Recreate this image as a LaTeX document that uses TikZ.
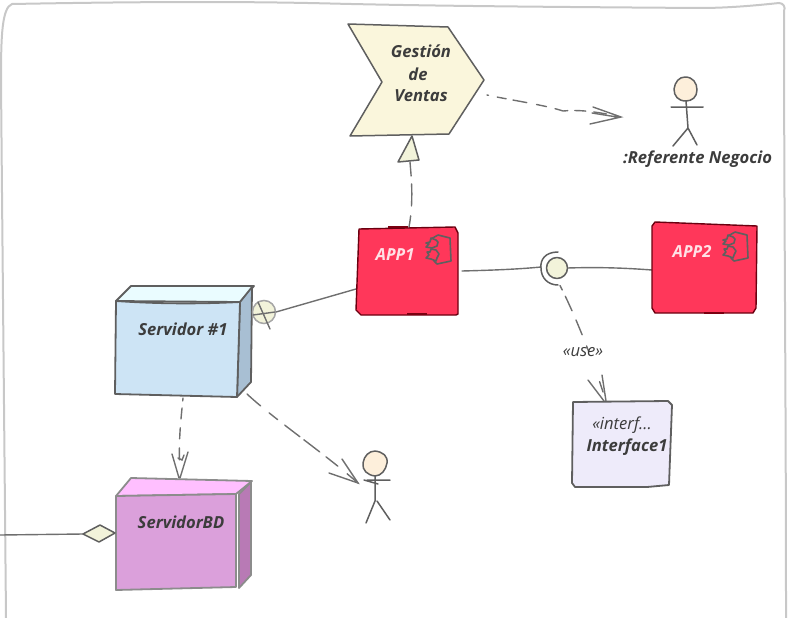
\documentclass[tikz,border=0pt]{standalone}
\usepackage{fontspec}
\setmainfont{Open Sans}
\usetikzlibrary{calc}
\definecolor{ink}{HTML}{3C3C3C}
\definecolor{stroke}{HTML}{5F5F5F}
\definecolor{framec}{HTML}{C8C8C8}
\definecolor{appfill}{HTML}{FF375A}
\definecolor{appedge}{HTML}{6B0010}
\definecolor{appbar}{HTML}{7A0010}
\definecolor{cream}{HTML}{FAF6DC}
\definecolor{ballc}{HTML}{F2F3DA}
\definecolor{skin}{HTML}{FDEFDB}
\definecolor{srvfront}{HTML}{CDE4F5}
\definecolor{srvtop}{HTML}{EAFCFF}
\definecolor{srvside}{HTML}{A8BFD3}
\definecolor{bdfront}{HTML}{DBA0DB}
\definecolor{bdtop}{HTML}{FFBFFF}
\definecolor{bdside}{HTML}{B87AB5}
\definecolor{ifcfill}{HTML}{EEEBFA}
\tikzset{
  anchorbox/.style={inner sep=0pt,outer sep=0pt},
  lbl/.style={inner sep=0pt,font=\fontsize{16.6}{20}\selectfont\bfseries\itshape,text=ink,align=center},
  applbl/.style={lbl,text=white!85!appfill},
  thin lbl/.style={inner sep=0pt,font=\fontsize{16.6}{20}\selectfont\itshape,text=ink},
  edge/.style={draw=stroke,line width=1.5pt,line join=round,line cap=round},
  conn/.style={draw=stroke!90!white,line width=1.4pt,line cap=round},
  dashc/.style={conn,dash pattern=on 15pt off 10pt},
  appshape/.style={fill=appfill,draw=appedge,line width=1.4pt,line join=round},
  appbarline/.style={draw=appbar,line width=2.5pt},
  nodeedge/.style={draw=stroke,line width=1.8pt,line join=round},
  bdedge/.style={draw=gray!90!white,line width=1.8pt,line join=round},
  compicon/.pic={
    \draw[edge,line width=1.6pt] (-7,-10) -- (0,-14) -- (12,-11) -- (13,12) -- (-1,15) -- (-4,12);
    \draw[edge,line width=1.6pt] (-12,-6) -- (-8,-7) -- (-7,-11) -- (-2,-9) -- (0,-7) -- (-1,-3) -- (-6,-1) -- (-12,-2) -- (-9,-5) -- cycle;
    \draw[edge,line width=1.6pt] (-11,3) -- (-8,3) -- (-7,0) -- (-2,1) -- (1,5) -- (-1,9) -- (-2,12) -- (-7,10) -- (-12,9) -- (-9,6) -- cycle;
  },
}
\begin{document}
\begin{tikzpicture}[x=1pt,y=-1pt]
\useasboundingbox (0,0) rectangle (795,618);
% frame
\draw[framec,line width=2pt,line cap=round]
  (6,618) .. controls (4,400) and (2,200) .. (1,80) .. controls (1,35) and (2,8) .. (12,4)
  .. controls (120,2) and (230,1) .. (330,3.5) .. controls (430,6) and (560,7) .. (700,8)
  .. controls (730,8) and (760,5) .. (779,3) .. controls (783,3) and (786,7) .. (784,11)
  .. controls (784,200) and (786,400) .. (786,618);

% anchor boxes
\node[anchorbox,minimum width=136pt,minimum height=112pt] (gestion) at (416,80) {};
\node[anchorbox,minimum width=102pt,minimum height=88pt] (app1) at (407,271) {};
\node[anchorbox,minimum width=104pt,minimum height=90pt] (app2) at (704,268) {};
\node[anchorbox,minimum width=137pt,minimum height=96pt] (srv) at (184,349) {};
\node[anchorbox,minimum width=120pt,minimum height=94pt] (bd) at (176,534) {};
\node[anchorbox,minimum width=100pt,minimum height=86pt] (ifc) at (622,444) {};
\node[anchorbox,minimum width=32pt,minimum height=70pt] (refactor) at (687,111) {};
\node[anchorbox,minimum width=26pt,minimum height=70pt] (actor) at (377,488) {};
\node[anchorbox,minimum size=21pt,circle] (ball) at (557,268) {};
\node[anchorbox,minimum size=24pt,circle] (crossball) at (264,312) {};
\node[anchorbox,minimum width=32pt,minimum height=17pt] (dia) at (99,534) {};
\coordinate (west) at (0,535);
\coordinate (gtip) at (412,136);
\coordinate (gbase) at (410,162);
\coordinate (refend) at (621,117);
\coordinate (actend) at (358,483);
\coordinate (ifcend) at (606,401);
\coordinate (bdend) at (180,478);

% connectors
\draw[conn] ([xshift=4pt]app1.east) .. controls (500,270) and (520,269) .. (541,267);
\draw[conn] (ball.east) .. controls (600,267) and (625,268) .. (app2.west |- 0,270);
\draw[conn] (crossball.east) -- (app1.west |- 0,289);
\draw[conn] (west) -- (dia.west);
\draw[dashc,dash pattern=on 1.5pt off 9pt on 9pt off 7pt on 14pt off 10pt on 10pt off 9pt on 13pt off 7pt on 11pt off 8pt on 13pt off 40pt] ([yshift=-15pt,xshift=3pt]gestion.east) .. controls (510,100) and (545,105) .. (563,111) .. controls (575,110) and (590,110) .. (refend);
\draw[dashc,dash pattern=on 14pt off 8pt on 22pt off 10pt on 14pt] (gbase) .. controls (411,175) and (414,200) .. (app1.north -| 409,0);
\draw[dashc,dash pattern=on 5pt off 7pt on 16pt off 10pt on 16pt off 12pt on 6pt off 32pt on 11pt off 80pt] (ball.south) ++(3,7) .. controls (570,305) and (588,345) .. (ifcend);
\draw[dashc,dash pattern=on 3pt off 7pt on 11pt off 9pt on 11pt off 9pt on 12pt off 30pt] (srv.south) ++(-1,1) .. controls (181,420) and (178,440) .. (bdend);
\draw[dashc,dash pattern=on 18pt off 11pt on 11pt off 9pt on 19pt off 5pt on 20pt off 8pt on 15pt off 12pt on 15pt] (247,394) .. controls (275,420) and (320,450) .. (actend);
% open arrowheads
\draw[conn] (593,107) -- (refend) -- (590,124) (592,113) -- (617,117);
\draw[conn] (342,459) -- (actend) -- (329,473);
\draw[conn] (588,380) -- (604,401) (602,375) -- (ifcend);
\draw[conn] (172,454) -- (179,478) (188,452) -- (bdend) (178,458) -- (182,460) -- (184,455);
% realization triangle
\draw[edge,fill=ballc] (gtip) -- (398,162) -- (419,160) -- cycle;

% use label
\node[thin lbl] (use) at (583,352) {«use»};

% Gestion
\draw[edge,fill=cream] (348,24) -- (448,27) -- (484,80) -- (449,134) -- (350,136) -- (382,82) -- cycle;
\node[lbl] (g1) at (421,51) {Gestión};
\node[lbl] (g2) at (418,74) {de};
\node[lbl] (g3) at (421,96) {Ventas};

% actor 1
\draw[edge,fill=skin] (685,77) .. controls (693,77) and (697,83) .. (697,90) .. controls (697,97) and (692,101) .. (686,101) .. controls (678,101) and (674,96) .. (674,89) .. controls (675,82) and (679,77) .. (685,77) -- cycle;
\draw[edge] (686,101) -- (688,128) -- (673,146) (688,128) -- (697,145) (671,107) -- (703,107);
\node[lbl] (reflbl) at (697.5,159) {:Referente Negocio};

% actor 2
\draw[edge,fill=skin] (375,451) .. controls (383,452) and (388,456) .. (387,463) .. controls (386,470) and (381,476) .. (375,476) .. controls (367,475) and (362,470) .. (363,463) .. controls (364,456) and (369,451) .. (375,451) -- cycle;
\draw[edge] (375,476) -- (375,501) -- (366,523) (377,501) -- (390,520) (364,480) -- (378,484) (367,480) -- (390,480);

% APP1
\draw[appshape] (359,229) -- (455,227) -- (458,233) -- (458,314) -- (456,315) -- (361,315) -- (356,310) -- cycle;
\draw[appbarline] (388,227) -- (408,227) (407,314) -- (427,314);
\node[applbl] (app1lbl) at (395,255) {APP1};
\pic at (438,249) {compicon};

% APP2
\draw[appshape] (655,222) -- (757,226) -- (756,308) -- (753,313) -- (655,313) -- (652,308) -- (652,226) -- cycle;
\draw[appbarline] (704,313) -- (724,313);
\node[applbl] (app2lbl) at (692,251) {APP2};
\pic at (735,246) {compicon};

% ball & socket
\draw[edge,fill=ballc] (ball) circle (10.5pt);
\draw[edge] (558,252) .. controls (545,252) and (540,260) .. (541,268) .. controls (541,278) and (548,285) .. (558,285);

% Server
\draw[nodeedge,fill=srvtop] (116,301) -- (131,286) -- (254,286) -- (240,302) -- cycle;
\draw[nodeedge,fill=srvside] (240,302) -- (252,287) -- (251,382) -- (237,397) -- cycle;
\draw[nodeedge,fill=srvfront] (116,301) .. controls (160,304) and (200,304) .. (240,302) -- (237,397) -- (115,394) -- cycle;
\node[lbl] (srvlbl) at (183,329) {Servidor \#1};

% crossed ball
\draw[draw=gray!70!white,line width=1.5pt,fill=ballc] (crossball) circle (11.5pt);
\draw[conn] (258,302) -- (270,329) (253,315) -- (275,312);

% ServidorBD
\draw[bdedge,fill=bdtop] (116,496) -- (131,478) -- (252,481) -- (236,494) -- cycle;
\draw[bdedge,fill=bdside] (239,494) -- (251,482) -- (251,575) -- (239,588) -- cycle;
\draw[bdedge,fill=bdfront] (116,496) -- (236,494) -- (236,587) -- (116,590) -- cycle;
\node[lbl] (bdlbl) at (181,522) {ServidorBD};

% diamond
\draw[edge,fill=ballc] (dia.west) -- (100,525) -- (115,533) -- (99,542) -- cycle;

% Interface
\draw[nodeedge,fill=ifcfill] (573,402) -- (668,401) -- (672,405) -- (669,485) -- (647,487) -- (575,487) -- (572,483) -- cycle;
\node[thin lbl] (if1) at (622,425) {«interf...};
\node[lbl] (if2) at (627,447) {Interface1};
\end{tikzpicture}
\end{document}
